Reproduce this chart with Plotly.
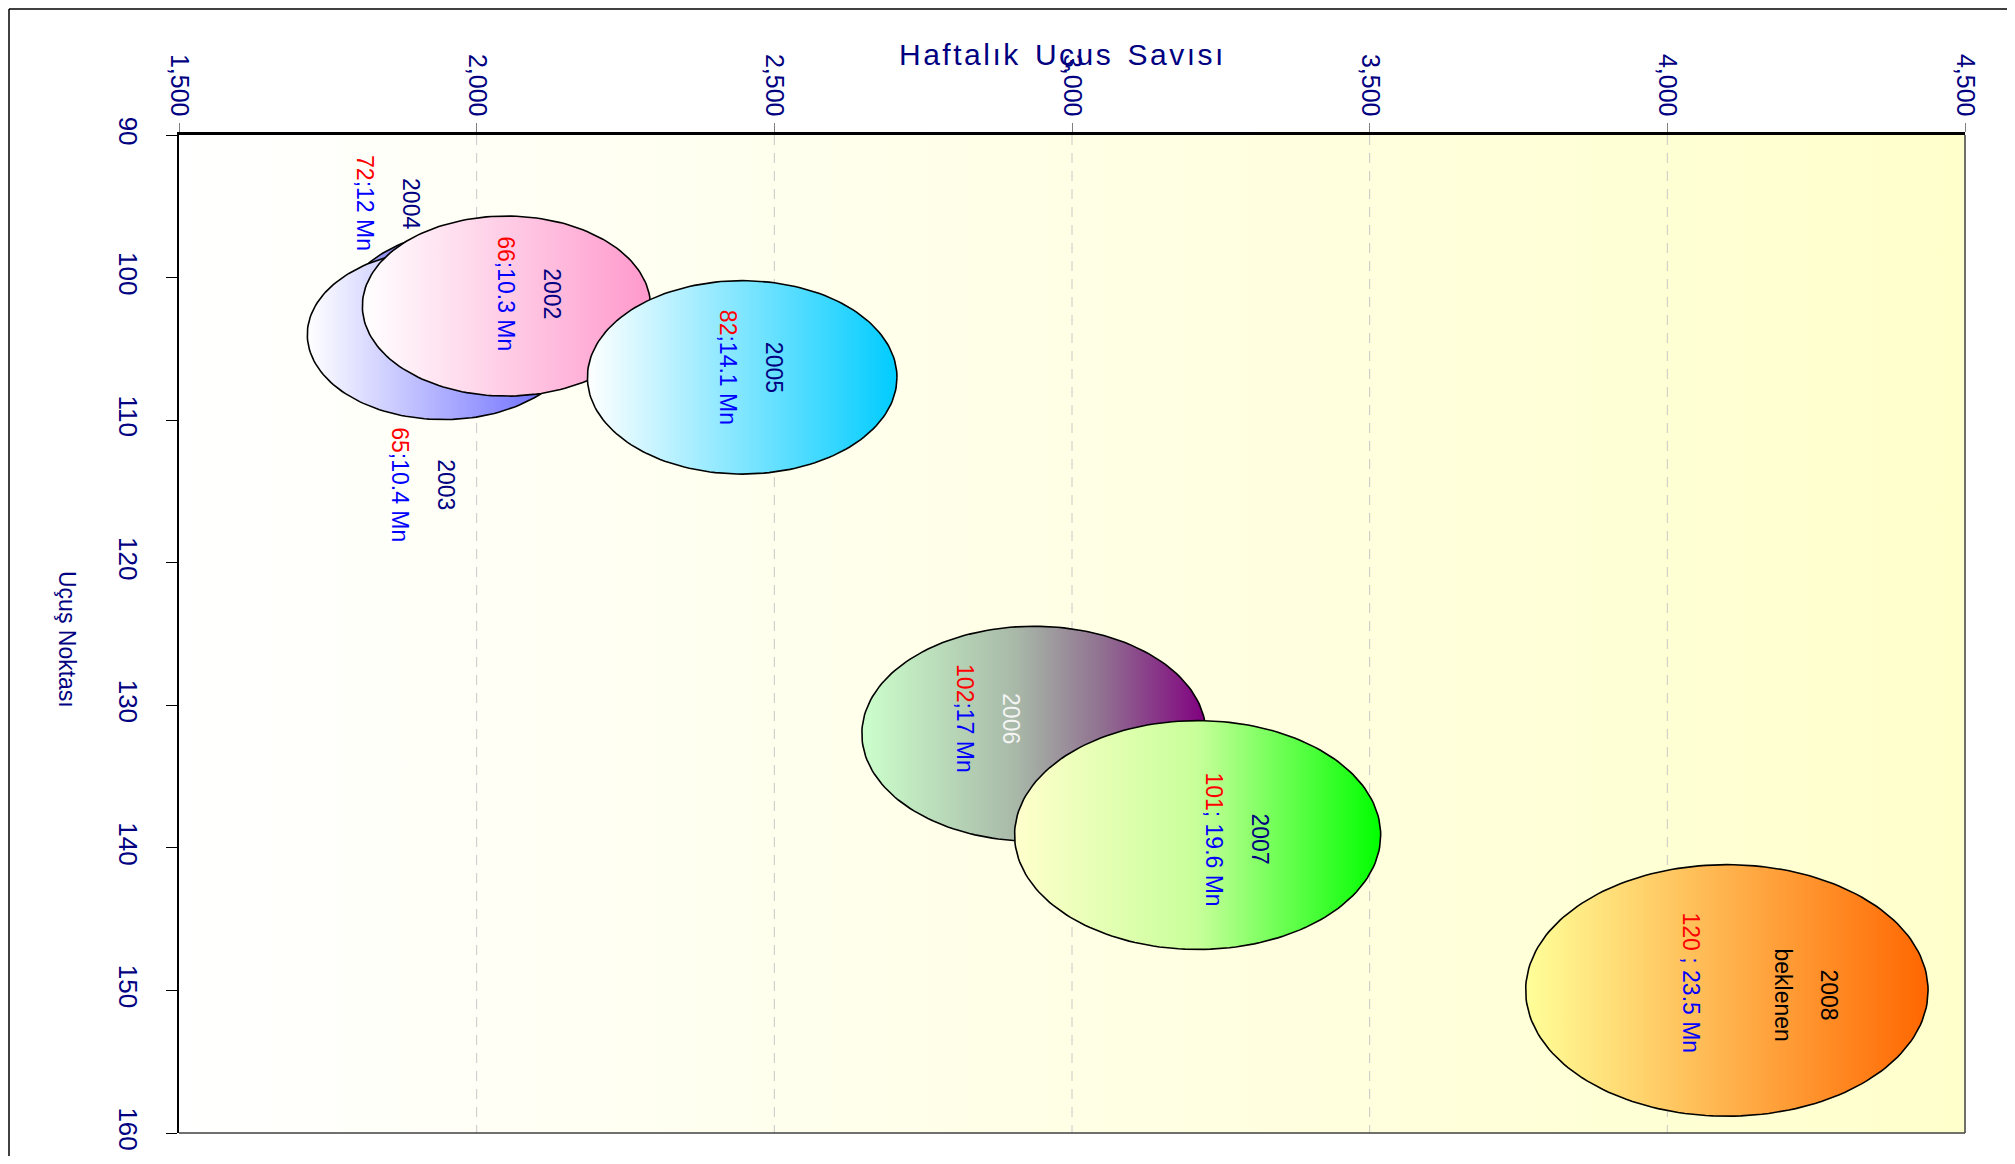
import numpy as np
import plotly.graph_objects as go

# ---------------- data ----------------
years = ["2002", "2003", "2004", "2005", "2006", "2007", "2008"]
weekly_flights = [2050, 1944, 1999, 2446, 2936, 3211, 4100]      # Haftalık Uçuş Sayısı
destination_axis = [102.0, 104.0, 102.5, 107.0, 132.0, 139.1, 150.0]  # Uçuş Noktası axis value
bubble_size = [484, 457, 450, 520, 578, 615, 676]                 # bubble diameter (flight units)
destinations = ["66", "65", "72", "82", "102", "101", "120"]
passengers = ["10.3", "10.4", "12", "14.1", "17", "19.6", "23.5"]
label_x = [2088, 1910, 1850, 2460, 2859, 3277, 4156]
label_y = [101.1, 114.5, 94.8, 106.3, 130.9, 139.4, 150.3]
x_ticks = [1500, 2000, 2500, 3000, 3500, 4000, 4500]
y_ticks = [90, 100, 110, 120, 130, 140, 150, 160]
draw_order = [2, 1, 0, 3, 4, 5, 6]

# ---------------- styles ----------------
PAGE_OFF = 8                      # default body margin of the html page
W, H = 2015 - 2 * PAGE_OFF, 1164 - 2 * PAGE_OFF
ML, MT = 171, 127
PW, PH = 1786, 998
MR, MB = W - ML - PW, H - MT - PH
XR = [1500, 4500]
YR = [160, 90]
px_per_x = PW / (XR[1] - XR[0])
px_per_y = PH / (YR[0] - YR[1])
ASPECT = 1.6

NARROW = "Liberation Sans Narrow, Arial Narrow, Liberation Sans, sans-serif"
NAVY = "#000080"


def px_to_paper(sx, sy):
    """screen pixel -> paper coords"""
    return (sx - PAGE_OFF - ML) / PW, 1 - (sy - PAGE_OFF - MT) / PH


bubble_scales = {
    "2002": [[0, "#FFFFFF"], [1, "#FF99CC"]],
    "2003": [[0, "#FFFFFF"], [1, "#5C5CFF"]],
    "2004": [[0, "#A8A8F8"], [1, "#3030C0"]],
    "2005": [[0, "#FFFFFF"], [1, "#00CCFF"]],
    "2006": [[0, "#CCFFCC"], [0.45, "#A8B8A8"], [0.7, "#907090"], [1, "#800080"]],
    "2007": [[0, "#FFFFCC"], [0.5, "#C8FF9A"], [1, "#00FF00"]],
    "2008": [[0, "#FFFF99"], [1, "#FF6600"]],
}
year_colors = {"2006": "#F4F4F4", "2008": "#000000"}

fig = go.Figure()

# plot-area gradient background
fig.add_trace(go.Scatter(
    x=[XR[0], XR[1], XR[1], XR[0], XR[0]], y=[YR[1], YR[1], YR[0], YR[0], YR[1]],
    mode="lines", line=dict(width=0), fill="toself",
    fillgradient=dict(type="horizontal", colorscale=[[0, "#FFFFFF"], [1, "#FFFFCC"]]),
    hoverinfo="skip", showlegend=False))

# dashed vertical gridlines
gx, gy = [], []
for t in x_ticks[1:-1]:
    gx += [t, t, None]
    gy += [YR[1], YR[0], None]
fig.add_trace(go.Scatter(x=gx, y=gy, mode="lines",
                         line=dict(color="#C8C8C8", width=1, dash="10px,8px"),
                         hoverinfo="skip", showlegend=False))

# bubbles
theta = np.linspace(0, 2 * np.pi, 181)
for i in draw_order:
    rx = bubble_size[i] / 2.0
    ry = (rx * px_per_x / ASPECT) / px_per_y
    ex = weekly_flights[i] + rx * np.cos(theta)
    ey = destination_axis[i] + ry * np.sin(theta)
    fig.add_trace(go.Scatter(
        x=ex, y=ey, mode="lines", fill="toself",
        line=dict(color="black", width=1.6),
        fillgradient=dict(type="horizontal", colorscale=bubble_scales[years[i]]),
        hoverinfo="skip", showlegend=False, name=years[i]))

# bubble labels (rotated, one annotation per line)
LINE = 46
for i, yr in enumerate(years):
    yc = year_colors.get(yr, NAVY)
    sep = "; " if yr == "2007" else (" ; " if yr == "2008" else ";")
    val = (f'<span style="color:#FF0000">{destinations[i]}</span>'
           f'<span style="color:#0000FF">{sep}{passengers[i]} Mn</span>')
    lines = [f'<span style="color:{yc}">{yr}</span>']
    if yr == "2008":
        lines += [f'<span style="color:{yc}">beklenen</span>', ""]
    lines.append(val)
    n = len(lines)
    for k, txt in enumerate(lines):
        if not txt:
            continue
        lift = 12 if (yr == "2008" and k == n - 1) else 0
        fig.add_annotation(x=label_x[i], y=label_y[i], xref="x", yref="y",
                           text=txt, showarrow=False, textangle=90,
                           xanchor="center", yanchor="middle",
                           xshift=((n - 1) / 2.0 - k) * LINE, yshift=lift,
                           font=dict(family=NARROW, size=23, color=NAVY))

# axis titles
TS = "\u200a"
title_txt = "  ".join(TS.join(w) for w in ["Haftalık", "Uçus", "Savısı"])
tx, ty = px_to_paper(1061, 54)
fig.add_annotation(text=title_txt, xref="paper", yref="paper", x=tx, y=ty,
                   showarrow=False, xanchor="center", yanchor="middle",
                   font=dict(family=NARROW, size=30, color=NAVY))
lx, ly = px_to_paper(67, 639)
fig.add_annotation(text="Uçuş Noktası", xref="paper", yref="paper", x=lx, y=ly,
                   textangle=90, showarrow=False, xanchor="center", yanchor="middle",
                   font=dict(family=NARROW, size=23, color=NAVY))

# frame lines: plot bottom/right, outer figure top/left
fig.add_shape(type="line", xref="paper", yref="paper", x0=0, x1=1, y0=0, y1=0,
              line=dict(color="#404040", width=1.5))
fig.add_shape(type="line", xref="paper", yref="paper", x0=1, x1=1, y0=0, y1=1,
              line=dict(color="#404040", width=1.5))
fx0, fy0 = px_to_paper(PAGE_OFF + 1, PAGE_OFF + 1)
fx1, fy1 = px_to_paper(PAGE_OFF + W, PAGE_OFF + H)
fig.add_shape(type="line", xref="paper", yref="paper", x0=fx0, x1=fx1, y0=fy0, y1=fy0,
              line=dict(color="black", width=1.5))
fig.add_shape(type="line", xref="paper", yref="paper", x0=fx0, x1=fx0, y0=fy0, y1=fy1,
              line=dict(color="black", width=1.5))

fig.update_layout(
    width=W, height=H,
    margin=dict(l=ML, r=MR, t=MT, b=MB, pad=0, autoexpand=False),
    paper_bgcolor="white", plot_bgcolor="white",
    showlegend=False, hovermode=False,
    xaxis=dict(range=XR, side="top", tickvals=x_ticks, tickformat=",", tickangle=90,
               showgrid=False, zeroline=False, showline=True, linecolor="black",
               linewidth=2.5, ticks="outside", ticklen=9, tickcolor="#808080",
               tickfont=dict(family=NARROW, size=25, color=NAVY),
               ticklabelstandoff=-2, fixedrange=True, automargin=False),
    yaxis=dict(range=YR, tickvals=y_ticks, tickangle=90,
               showgrid=False, zeroline=False, showline=True, linecolor="black",
               linewidth=1.5, ticks="outside", ticklen=11, tickcolor="black",
               tickfont=dict(family=NARROW, size=26, color=NAVY),
               ticklabelstandoff=16, fixedrange=True, automargin=False),
)

fig.write_html("out.html")
